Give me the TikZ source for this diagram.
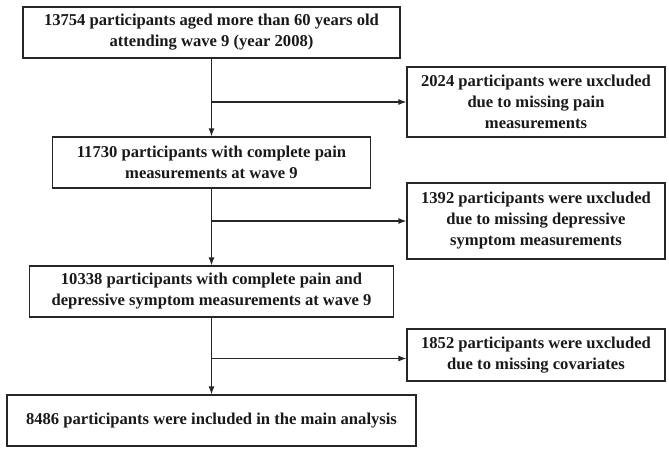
\documentclass[tikz,border=0pt]{standalone}
\usepackage{fontspec}
\setmainfont{Liberation Serif}
\usetikzlibrary{arrows.meta}

\tikzset{
  stagebox/.style={draw=black!85, line width=1.2pt, rectangle, inner sep=0pt,
    align=center, font=\fontsize{16.6}{21}\selectfont\bfseries, text=black!90},
  flowline/.style={draw=black!85, line width=1.2pt},
  flowarrow/.style={flowline, -{Latex[length=8pt,width=6pt]}}
}

\begin{document}
\begin{tikzpicture}[x=1pt, y=-1pt]
  \useasboundingbox (0,0) rectangle (669,450);

  % main column
  \node[stagebox, minimum width=377pt, minimum height=51pt] (A) at (211.5,32.5)
    {13754 participants aged more than 60 years old\\attending wave 9 (year 2008)};
  \node[stagebox, minimum width=318pt, minimum height=51pt] (C) at (211.5,162.5)
    {11730 participants with complete pain\\measurements at wave 9};
  \node[stagebox, minimum width=364pt, minimum height=51pt] (E) at (211.5,291.5)
    {10338 participants with complete pain and\\depressive symptom measurements at wave 9};
  \node[stagebox, minimum width=409pt, minimum height=51pt] (G) at (211.5,420.5)
    {8486 participants were included in the main analysis};

  % exclusion column
  \node[stagebox, minimum width=258pt, minimum height=70pt] (B) at (536,102)
    {2024 participants were uxcluded\\due to missing pain\\measurements};
  \node[stagebox, minimum width=258pt, minimum height=76pt] (D) at (536,221)
    {1392 participants were uxcluded\\due to missing depressive\\symptom measurements};
  \node[stagebox, minimum width=258pt, minimum height=52pt] (F) at (536,355)
    {1852 participants were uxcluded\\due to missing covariates};

  % branch points on the main line
  \coordinate (j1) at (A.south |- B.west);
  \coordinate (j2) at (C.south |- D.west);
  \coordinate (j3) at (211.5,358.5);

  % vertical flow
  \draw[flowarrow] (A.south) -- (C.north);
  \draw[flowarrow] (C.south) -- (E.north);
  \draw[flowarrow] (E.south) -- (G.north);

  % exclusions
  \draw[flowarrow] (j1) -- (B.west);
  \draw[flowarrow] (j2) -- (D.west);
  \draw[flowarrow] (j3) -- (j3 -| F.west);
\end{tikzpicture}
\end{document}
